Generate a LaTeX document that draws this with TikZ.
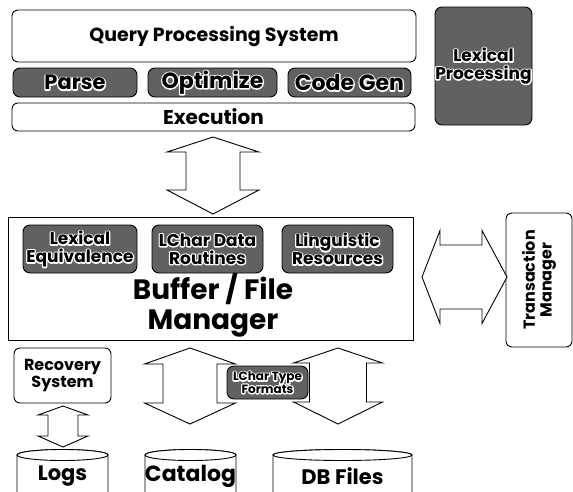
\documentclass[tikz,border=0pt]{standalone}
\usepackage{fontspec}
\setmainfont{Poppins}
\usetikzlibrary{calc}
\tikzset{
  box/.style={draw, rounded corners=6pt, fill=white, line width=0.9pt, inner sep=0pt},
  sqbox/.style={draw, fill=white, line width=0.9pt, inner sep=0pt},
  darkbox/.style={draw, rounded corners=7pt, fill=black!62, line width=0.9pt, inner sep=0pt},
  lbl/.style={font=\bfseries\fontsize{#1}{\dimexpr #1pt*21/20\relax}\selectfont, align=center, inner sep=0pt},
  blk/.style={draw, fill=white, line width=0.9pt, line join=miter},
}
% white stroked outline of the text (halo)
\newcommand\halobegin{\special{pdf:literal direct q 1 Tr 2.6 w 1 1 1 RG 1 j}}
\newcommand\haloend{\special{pdf:literal direct Q}}
% dark rounded box with haloed text: name, centre, width, height, size, text
\newcommand\darkbx[6]{%
  \node[darkbox, minimum width=#3pt, minimum height=#4pt] (#1) at (#2) {};
  \node[lbl=#5] (#1-h) at (#1.center) {\halobegin#6\haloend};
  \node[lbl=#5] (#1-t) at (#1.center) {#6};
}
% vertical block double arrow: top tip, bottom tip, head half, shaft half, top head len, bottom head len
\newcommand\varrow[6]{%
  \draw[blk] let \p1=(#1), \p2=(#2) in
   (\p1) -- ({\x1+#3pt},{\y1-#5pt}) -- ({\x1+#4pt},{\y1-#5pt}) -- ({\x1+#4pt},{\y2+#6pt})
   -- ({\x1+#3pt},{\y2+#6pt}) -- (\x1,\y2) -- ({\x1-#3pt},{\y2+#6pt}) -- ({\x1-#4pt},{\y2+#6pt})
   -- ({\x1-#4pt},{\y1-#5pt}) -- ({\x1-#3pt},{\y1-#5pt}) -- cycle;
}
% horizontal block double arrow: left tip, right tip, head half, shaft half, left len, right len
\newcommand\harrow[6]{%
  \draw[blk] let \p1=(#1), \p2=(#2) in
   (\p1) -- ({\x1+#5pt},{\y1+#3pt}) -- ({\x1+#5pt},{\y1+#4pt}) -- ({\x2-#6pt},{\y1+#4pt})
   -- ({\x2-#6pt},{\y1+#3pt}) -- (\x2,\y1) -- ({\x2-#6pt},{\y1-#3pt}) -- ({\x2-#6pt},{\y1-#4pt})
   -- ({\x1+#5pt},{\y1-#4pt}) -- ({\x1+#5pt},{\y1-#3pt}) -- cycle;
}
% cylinder cut by the bottom edge: name, left x, right x, font size, text
\newcommand\cyl[5]{%
  \draw[blk] (#2,497) -- (#2,455) arc[start angle=180, end angle=360, x radius={(#3-#2)/2}, y radius=5.5] -- (#3,497);
  \draw[line width=0.9pt, fill=white] ({(#2+#3)/2},455) ellipse [x radius={(#3-#2)/2}, y radius=5.5];
  \node[lbl=#4] (#1) at ({(#2+#3)/2},476) {#5};
}
\begin{document}
\begin{tikzpicture}[x=1pt,y=-1pt]
\useasboundingbox[fill=white] (0,0) rectangle (573,491);
\clip (0,0) rectangle (573,491);

% query processing
\node[box, minimum width=404pt, minimum height=52pt] (qps) at (214,36) {};
\node[lbl=19] (qps-t) at (qps.center) {Query Processing System};
\darkbx{parse}{75,82.5}{124}{29}{21}{Parse}
\darkbx{opt}{212.5,82.5}{129}{29}{22}{Optimize}
\darkbx{cg}{349.5,82.5}{123}{29}{22}{Code Gen}
\node[box, minimum width=403pt, minimum height=28pt] (exec) at (213.5,117) {};
\node[lbl=20] (exec-t) at (exec.center) {Execution};
\darkbx{lexp}{483.5,66}{97}{118}{17}{Lexical\\Processing}

% buffer manager
\node[sqbox, minimum width=405pt, minimum height=123pt] (buf) at (210.5,278.5) {};
\node[lbl=28] (buf-t) at (213,305) {Buffer / File\\Manager};
\darkbx{lexeq}{80,249}{114}{48}{17}{Lexical\\Equivalence}
\darkbx{lcd}{207.5,249}{111}{48}{17}{LChar Data\\Routines}
\darkbx{ling}{337.5,249}{111}{48}{17}{Linguistic\\Resources}

% transaction manager
\node[box, minimum width=66pt, minimum height=134pt] (tm) at (539,280) {};
\node[lbl=16, rotate=90] (tm-t) at (tm.center) {Transaction\\Manager};

% recovery
\node[box, minimum width=97pt, minimum height=55pt] (rec) at (62.5,375.5) {};
\node[lbl=16] (rec-t) at (rec.center) {Recovery\\System};

% arrows
\coordinate (a1t) at (213,137);
\coordinate (a1b) at (213,214);
\varrow{a1t}{a1b}{46}{27}{15}{24}
\coordinate (a5l) at (422,277);
\coordinate (a5r) at (507,277);
\harrow{a5l}{a5r}{46.5}{32}{18}{25}
\coordinate (a2t) at (63,406);
\coordinate (a2b) at (63,447);
\varrow{a2t}{a2b}{25}{15}{9}{11}
\coordinate (a3t) at (190,348);
\coordinate (a3b) at (190,424);
\varrow{a3t}{a3b}{45.5}{27}{16}{21}
\coordinate (a4t) at (338,348);
\coordinate (a4b) at (338,424);
\varrow{a4t}{a4b}{44.5}{28.5}{15}{22}

\darkbx{lct}{267.5,382.5}{81}{33}{12}{LChar Type\\Formats}

% storage
\cyl{logs}{17}{108}{21}{Logs}
\cyl{cat}{145}{236}{22}{Catalog}
\cyl{dbf}{273}{412}{21}{DB Files}
\end{tikzpicture}
\end{document}
